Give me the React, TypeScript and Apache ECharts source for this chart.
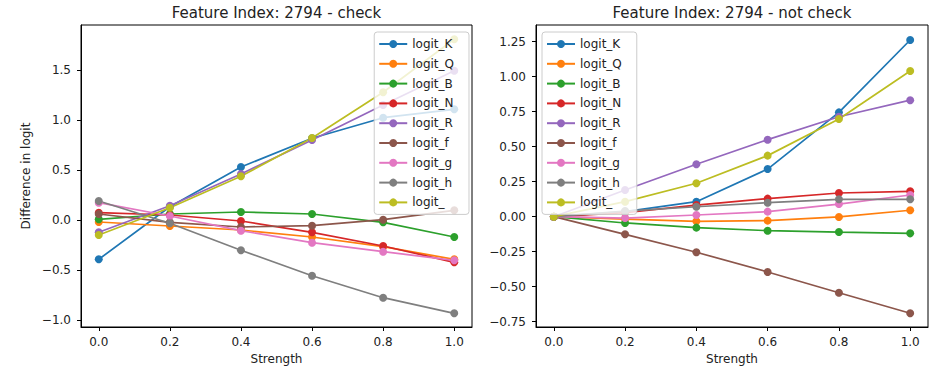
import React, { useEffect, useRef } from "react";
import * as echarts from "echarts";

const strengths = [0.0, 0.2, 0.4, 0.6, 0.8, 1.0];
const seriesNames = ["logit_K", "logit_Q", "logit_B", "logit_N", "logit_R", "logit_f", "logit_g", "logit_h", "logit_"];
const colors = ["#1f77b4", "#ff7f0e", "#2ca02c", "#d62728", "#9467bd", "#8c564b", "#e377c2", "#7f7f7f", "#bcbd22"];

// Left panel: "check"
const checkK = [-0.393, 0.133, 0.53, 0.817, 1.023, 1.107];
const checkQ = [-0.02, -0.06, -0.1, -0.17, -0.267, -0.393];
const checkB = [0.007, 0.06, 0.08, 0.06, -0.023, -0.17];
const checkN = [0.073, 0.05, -0.01, -0.123, -0.26, -0.423];
const checkR = [-0.123, 0.143, 0.46, 0.8, 1.15, 1.493];
const checkF = [0.06, -0.023, -0.07, -0.057, 0.003, 0.097];
const checkG = [0.173, 0.04, -0.107, -0.227, -0.317, -0.403];
const checkH = [0.19, -0.033, -0.303, -0.557, -0.777, -0.933];
const checkBlank = [-0.15, 0.123, 0.437, 0.82, 1.277, 1.807];

// Right panel: "not check"
const notK = [0.0, 0.036, 0.107, 0.34, 0.745, 1.262];
const notQ = [0.0, -0.017, -0.033, -0.028, -0.002, 0.046];
const notB = [0.0, -0.045, -0.078, -0.1, -0.11, -0.119];
const notN = [0.0, 0.029, 0.083, 0.129, 0.169, 0.181];
const notR = [0.0, 0.19, 0.374, 0.55, 0.714, 0.832];
const notF = [0.0, -0.126, -0.254, -0.395, -0.543, -0.69];
const notG = [0.0, -0.01, 0.012, 0.036, 0.09, 0.155];
const notH = [0.0, 0.04, 0.071, 0.1, 0.124, 0.124];
const notBlank = [0.0, 0.107, 0.239, 0.436, 0.698, 1.04];

const xTicks = [0, 0.2, 0.4, 0.6, 0.8, 1.0];
const leftYTicks = [-1.0, -0.5, 0.0, 0.5, 1.0, 1.5];
const rightYTicks = [-0.75, -0.5, -0.25, 0.0, 0.25, 0.5, 0.75, 1.0, 1.25];

const titles = ["Feature Index: 2794 - check", "Feature Index: 2794 - not check"];
const xLabel = "Strength";
const yLabel = "Difference in logit";

const checkData = [checkK, checkQ, checkB, checkN, checkR, checkF, checkG, checkH, checkBlank];
const notData = [notK, notQ, notB, notN, notR, notF, notG, notH, notBlank];

const FONT = "DejaVu Sans";
const FS = 12;
const fmt = (v: number, d: number) => (v < 0 ? "\u2212" + Math.abs(v).toFixed(d) : v.toFixed(d));

export default function App() {
  const ref = useRef<HTMLDivElement>(null);
  useEffect(() => {
    if (!ref.current) return;
    const chart = echarts.init(ref.current, null, { renderer: "svg" });
    const axisCommon = {
      axisLine: { show: true, onZero: false, lineStyle: { color: "#000", width: 1 } },
      axisTick: { show: true, length: 4, lineStyle: { color: "#000", width: 1 } },
      splitLine: { show: false },
      axisLabel: { color: "#222", fontFamily: FONT, fontSize: FS },
    };
    const mkX = (gi: number) => ({
      type: "value",
      gridIndex: gi,
      min: -0.05,
      max: 1.05,
      name: xLabel,
      nameLocation: "middle",
      nameGap: 25,
      nameTextStyle: { color: "#222", fontFamily: FONT, fontSize: FS },
      ...axisCommon,
      axisTick: { ...axisCommon.axisTick, customValues: xTicks },
      axisLabel: { ...axisCommon.axisLabel, customValues: xTicks, margin: 9, formatter: (v: number) => fmt(v, 1) },
    });
    const series: any[] = [];
    [checkData, notData].forEach((data, gi) => {
      data.forEach((vals, i) => {
        series.push({
          type: "line",
          name: seriesNames[i],
          xAxisIndex: gi,
          yAxisIndex: gi,
          data: strengths.map((s, k) => [s, vals[k]]),
          symbol: "circle",
          symbolSize: 8,
          showSymbol: true,
          lineStyle: { width: 1.7, color: colors[i] },
          itemStyle: { color: colors[i] },
          emphasis: { disabled: true },
        });
      });
    });
    const legendCommon = {
      orient: "vertical",
      itemWidth: 28,
      itemHeight: 10,
      itemGap: 5.8,
      padding: [5, 15, 5, 4],
      backgroundColor: "rgba(255,255,255,0.8)",
      borderColor: "#cccccc",
      borderWidth: 1,
      borderRadius: 3,
      textStyle: { color: "#222", fontFamily: FONT, fontSize: FS, lineHeight: 14 },
      data: seriesNames,
    };
    const titleStyle = { fontFamily: FONT, fontSize: 15, fontWeight: "normal", color: "#222" };
    chart.setOption({
      animation: false,
      color: colors,
      title: [
        { text: titles[0], left: 276.5, top: 5, padding: 0, textAlign: "center", textStyle: titleStyle },
        { text: titles[1], left: 732, top: 5, padding: 0, textAlign: "center", textStyle: titleStyle },
      ],
      grid: [
        { left: 81, top: 25, width: 391, height: 302, show: true, borderColor: "#000", borderWidth: 1, backgroundColor: "transparent" },
        { left: 536, top: 25, width: 392, height: 302, show: true, borderColor: "#000", borderWidth: 1, backgroundColor: "transparent" },
      ],
      xAxis: [mkX(0), mkX(1)],
      yAxis: [
        {
          type: "value",
          gridIndex: 0,
          min: -1.07,
          max: 1.95,
          name: yLabel,
          nameLocation: "middle",
          nameGap: 49,
          nameTextStyle: { color: "#222", fontFamily: FONT, fontSize: FS },
          ...axisCommon,
          axisTick: { ...axisCommon.axisTick, customValues: leftYTicks },
          axisLabel: { ...axisCommon.axisLabel, customValues: leftYTicks, margin: 10, formatter: (v: number) => fmt(v, 1) },
        },
        {
          type: "value",
          gridIndex: 1,
          min: -0.788,
          max: 1.369,
          ...axisCommon,
          axisTick: { ...axisCommon.axisTick, customValues: rightYTicks },
          axisLabel: { ...axisCommon.axisLabel, customValues: rightYTicks, margin: 10, formatter: (v: number) => fmt(v, 2) },
        },
      ],
      legend: [
        { ...legendCommon, right: 473, top: 32 },
        { ...legendCommon, left: 542, top: 32 },
      ],
      series,
    });
    return () => chart.dispose();
  }, []);
  return <div ref={ref} style={{ position: "fixed", left: 0, top: 0, width: 942, height: 373, background: "#fff" }} />;
}
